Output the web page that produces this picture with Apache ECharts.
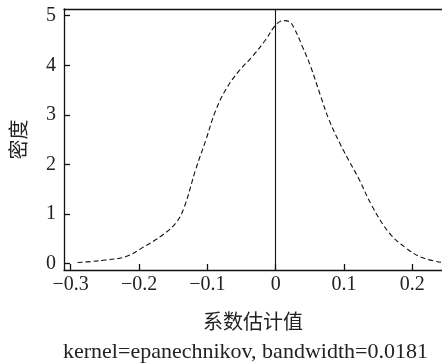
<!DOCTYPE html>
<html>
<head>
<meta charset="utf-8">
<script src="https://cdn.jsdelivr.net/npm/echarts@6/dist/echarts.min.js"></script>
<style>html,body{margin:0;padding:0;background:#fff;}#c{width:442px;height:364px;}</style>
</head>
<body>
<div id="c"></div>
<script>
const xValues = [-0.290, -0.270, -0.249, -0.219, -0.195, -0.166, -0.146, -0.134, -0.117, -0.102, -0.088, -0.073, -0.054, -0.034, -0.015, -0.002, 0.006, 0.013, 0.020, 0.027, 0.039, 0.051, 0.066, 0.078, 0.093, 0.107, 0.122, 0.141, 0.166, 0.190, 0.214, 0.244];
const density = [0.02, 0.04, 0.07, 0.14, 0.32, 0.57, 0.82, 1.13, 1.90, 2.50, 3.08, 3.51, 3.88, 4.18, 4.51, 4.78, 4.88, 4.90, 4.88, 4.75, 4.38, 3.98, 3.37, 2.90, 2.45, 2.08, 1.70, 1.16, 0.62, 0.32, 0.12, 0.02];
const xTicks = [-0.3, -0.2, -0.1, 0, 0.1, 0.2];
const yTicks = [0, 1, 2, 3, 4, 5];
const xTitle = '系数估计值';
const yTitle = '密度';
const note = 'kernel=epanechnikov, bandwidth=0.0181';

const serif = '"Liberation Serif", "Times New Roman", serif';
const cjk = '"Noto Sans CJK SC", sans-serif';
const fmtX = v => Math.abs(v) < 1e-9 ? '0' : (v < 0 ? '\u2212' : '') + Math.abs(v).toFixed(1);
const fmtY = v => String(Math.round(v));

const chart = echarts.init(document.getElementById('c'), null, {renderer: 'canvas'});
chart.setOption({
  animation: false,
  backgroundColor: '#fff',
  grid: {left: 63, right: 0, top: 9, bottom: 94, containLabel: false},
  xAxis: [{
    type: 'value', min: -0.3098, max: 0.2434, position: 'bottom',
    name: xTitle, nameLocation: 'middle', nameGap: 41,
    nameTextStyle: {fontFamily: cjk, fontSize: 20, color: '#222'},
    axisLine: {show: true, onZero: false, lineStyle: {color: '#111', width: 1.3}},
    axisTick: {show: true, inside: true, length: 6, customValues: xTicks, lineStyle: {color: '#111', width: 1.3}},
    axisLabel: {customValues: xTicks, formatter: fmtX, fontFamily: serif, fontSize: 20, color: '#222', margin: 5},
    splitLine: {show: false}
  }, {
    type: 'value', min: -0.3098, max: 0.2434, position: 'top',
    axisLine: {show: true, onZero: false, lineStyle: {color: '#111', width: 1.3}},
    axisTick: {show: false}, axisLabel: {show: false}, splitLine: {show: false}
  }],
  yAxis: {
    type: 'value', min: -0.131, max: 5.135,
    name: yTitle, nameLocation: 'middle', nameGap: 36,
    nameTextStyle: {fontFamily: cjk, fontSize: 20, color: '#222'},
    axisLine: {show: true, onZero: false, lineStyle: {color: '#111', width: 1.3}},
    axisTick: {show: true, inside: true, length: 6, customValues: yTicks, lineStyle: {color: '#111', width: 1.3}},
    axisLabel: {customValues: yTicks, formatter: fmtY, fontFamily: serif, fontSize: 20, color: '#222', margin: 8},
    splitLine: {show: false}
  },
  series: [{
    type: 'line',
    data: xValues.map((x, i) => [x, density[i]]),
    showSymbol: false,
    smooth: 0.4,
    lineStyle: {color: '#111', width: 1.1, type: [5, 3]},
    markLine: {
      silent: true, symbol: ['none', 'none'],
      label: {show: false},
      lineStyle: {color: '#111', width: 1.1, type: 'solid'},
      data: [{xAxis: 0}]
    }
  }],
  graphic: [{
    type: 'text', left: 63, top: 341,
    style: {text: note, font: '22px ' + serif, fill: '#222'}
  }]
});
</script>
</body>
</html>
